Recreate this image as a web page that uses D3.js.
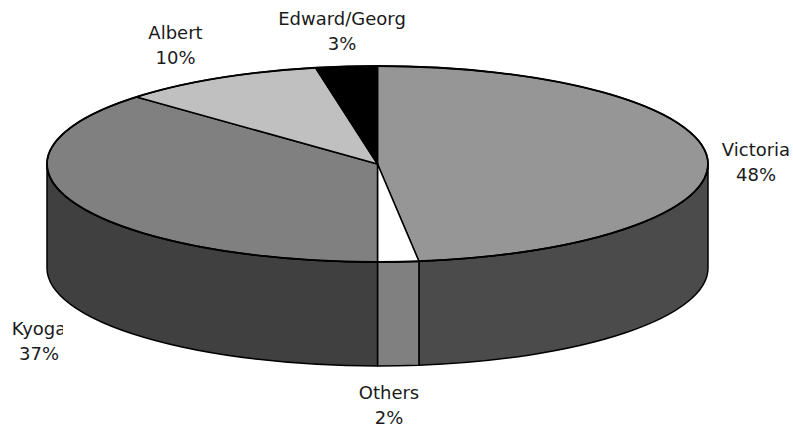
<!DOCTYPE html>
<html>
<head>
<meta charset="utf-8">
<script src="https://cdn.jsdelivr.net/npm/d3@7"></script>
<style>
  html, body { margin: 0; padding: 0; background: #ffffff; }
  svg { display: block; }
</style>
</head>
<body>
<svg id="chart" width="793" height="430"></svg>
<script>
// Lake shares, drawn clockwise from 12 o'clock
const categories = ["Victoria", "Others", "Kyoga", "Albert", "Edward/Georg"];
const shares = [48, 2, 37, 10, 3];
const percentLabels = ["48%", "2%", "37%", "10%", "3%"];

// Fill colours: top faces and the darker front walls
const topColors = ["#969696", "#ffffff", "#808080", "#c0c0c0", "#000000"];
const sideColors = ["#4b4b4b", "#808080", "#404040", "#606060", "#000000"];

// Geometry of the tilted disc
const W = 793, H = 430;
const cx = 377.5, cy = 164, rx = 330.5, ry = 98, depth = 104;

// Label placement (centre x, first baseline, optional right clip edge)
const labelLayout = {
  "Victoria":     { x: 756, y: 156 },
  "Others":       { x: 389, y: 399, clipRight: 420 },
  "Kyoga":        { x: 39,  y: 335, clipRight: 63 },
  "Albert":       { x: 175.5, y: 39 },
  "Edward/Georg": { x: 342, y: 25 }
};
const lineGap = 25;

const svg = d3.select("#chart");

const pie = d3.pie()
  .sort(null)
  .value(d => d.value)
  .startAngle(0)
  .endAngle(2 * Math.PI);

const slices = pie(categories.map((name, i) => ({ name, value: shares[i], i })));

// Point on the rim for a pie angle (0 = top, clockwise), optionally dropped by dy
function rim(a, dy = 0) {
  return [cx + rx * Math.sin(a), cy - ry * Math.cos(a) + dy];
}

function topPath(d) {
  const [x0, y0] = rim(d.startAngle);
  const [x1, y1] = rim(d.endAngle);
  const large = d.endAngle - d.startAngle > Math.PI ? 1 : 0;
  return `M${cx},${cy}L${x0},${y0}A${rx},${ry} 0 ${large} 1 ${x1},${y1}Z`;
}

// Front wall: only the part of a slice facing the viewer (between 3 and 9 o'clock)
function sidePath(d) {
  const a0 = Math.max(d.startAngle, Math.PI / 2);
  const a1 = Math.min(d.endAngle, 3 * Math.PI / 2);
  if (a1 <= a0) return null;
  const [x0, y0] = rim(a0);
  const [x1, y1] = rim(a1);
  const [x2, y2] = rim(a1, depth);
  const [x3, y3] = rim(a0, depth);
  return `M${x0},${y0}A${rx},${ry} 0 0 1 ${x1},${y1}` +
         `L${x2},${y2}A${rx},${ry} 0 0 0 ${x3},${y3}Z`;
}

const walls = slices.filter(d => sidePath(d) !== null);

svg.append("g").attr("class", "walls")
  .selectAll("path")
  .data(walls)
  .join("path")
  .attr("d", sidePath)
  .attr("fill", d => sideColors[d.data.i])
  .attr("stroke", "#000")
  .attr("stroke-width", 1.5)
  .attr("stroke-linejoin", "round");

svg.append("g").attr("class", "tops")
  .selectAll("path")
  .data(slices)
  .join("path")
  .attr("d", topPath)
  .attr("fill", d => topColors[d.data.i])
  .attr("stroke", "#000")
  .attr("stroke-width", 1.5)
  .attr("stroke-linejoin", "round");

// Outer rim drawn once more so the outline stays continuous
svg.append("ellipse")
  .attr("cx", cx).attr("cy", cy)
  .attr("rx", rx).attr("ry", ry)
  .attr("fill", "none")
  .attr("stroke", "#000")
  .attr("stroke-width", 1.8);

// Data labels
const defs = svg.append("defs");
const labels = svg.append("g").attr("class", "labels")
  .attr("font-family", "'DejaVu Sans', Verdana, sans-serif")
  .attr("font-size", 18)
  .attr("fill", "#1a1a1a");

slices.forEach((d, k) => {
  const name = d.data.name;
  const pos = labelLayout[name];
  const g = labels.append("g");
  if (pos.clipRight !== undefined) {
    const id = "clip-" + k;
    defs.append("clipPath").attr("id", id)
      .append("rect")
      .attr("x", 0).attr("y", 0)
      .attr("width", pos.clipRight).attr("height", H);
    g.attr("clip-path", `url(#${id})`);
  }
  const t = g.append("text").attr("text-anchor", "middle");
  t.append("tspan").attr("x", pos.x).attr("y", pos.y).text(name);
  t.append("tspan").attr("x", pos.x).attr("y", pos.y + lineGap).text(percentLabels[d.data.i]);
});
</script>
</body>
</html>
